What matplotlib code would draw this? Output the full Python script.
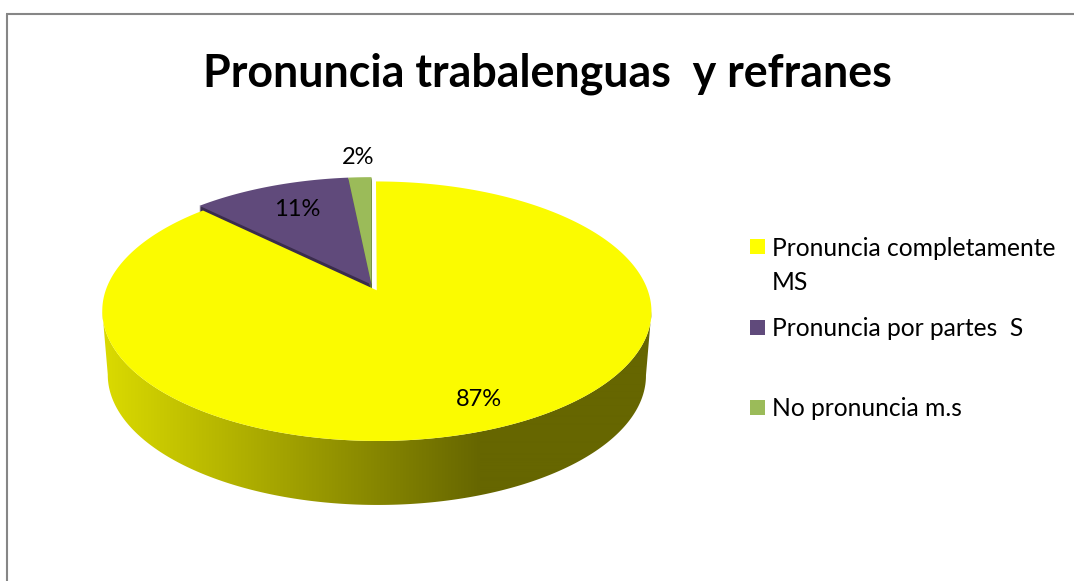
import numpy as np
import matplotlib
matplotlib.use("Agg")
import matplotlib.pyplot as plt
from matplotlib.patches import Polygon, Rectangle

title = "Pronuncia trabalenguas  y refranes"
categories = ["Pronuncia completamente\nMS", "Pronuncia por partes  S", "No pronuncia m.s"]
values = [87.4, 11.0, 1.6]
explode = [0.05, 0.0, 0.0]
colors = ["#FBFB00", "#604A7B", "#9BBB59"]
legend_colors = ["#FFFF00", "#604A7B", "#9BBB59"]
wall_colors = [None, "#3A2C4C", "#5E7035"]

plt.rcParams["font.family"] = ["Lato", "DejaVu Sans"]
fig = plt.figure(figsize=(10.74, 5.81), dpi=100, facecolor="white")
ax = fig.add_axes([0, 0, 1, 1])

wedges, _ = ax.pie(values, explode=explode, startangle=90, counterclock=False, colors=colors)

# perspective projection of the unit pie into the pixel-sized axes
CX, CY, A, B, P = 371.5, 284.5, 269.0, 79.0, 0.16
def project(x, y):
    w = 1 + P * y
    return CX + A * x / w, (CY - B * y) / w

shapes = []
for w in wedges:
    th = np.radians(np.linspace(w.theta1, w.theta2, 600))
    cx, cy = w.center
    shapes.append((cx, cy, th))
    w.remove()

ax.set_aspect("auto")
ax.axis("off")

# dark cut walls of the two small slices
for (cx, cy, th), wc in list(zip(shapes, wall_colors))[1:]:
    px, py = project(np.r_[cx, cx + np.cos(th)], np.r_[cy, cy + np.sin(th)])
    for d in range(1, 10):
        ax.add_patch(Polygon(np.c_[px, py + d], closed=True, fc=wc, ec="none", zorder=2))

# side wall of the large slice, swept from its rim between the widest points
cx, cy, th = shapes[0]
rx, ry = project(cx + np.cos(th), cy + np.sin(th))
mid = 0.5 * (rx.min() + rx.max())
bx = mid + (rx - mid) * 0.98
by = ry + 64
i0, i1 = sorted((int(np.argmin(rx)), int(np.argmax(rx))))
side = Polygon(np.c_[np.r_[rx[i0:i1 + 1], bx[i0:i1 + 1][::-1]],
                     np.r_[ry[i0:i1 + 1], by[i0:i1 + 1][::-1]]],
               closed=True, fc="none", ec="none", zorder=3)
ax.add_patch(side)
xs = np.arange(100, 656)
c0, c1 = np.array([218, 218, 0]) / 255, np.array([102, 102, 0]) / 255
t = np.clip((xs - 105) / (480 - 105), 0, 1)
grad = (c0[None, :] * (1 - t[:, None]) + c1[None, :] * t[:, None])[None, :, :]
im = ax.imshow(grad, extent=[100, 656, 512, 280], aspect="auto", zorder=3, interpolation="bilinear")
im.set_clip_path(side)
ax.set_xlim(0, 1074)
ax.set_ylim(581, 0)

# top faces
for (cx, cy, th), col in zip(shapes, colors):
    px, py = project(np.r_[cx, cx + np.cos(th)], np.r_[cy, cy + np.sin(th)])
    ax.add_patch(Polygon(np.c_[px, py], closed=True, fc=col, ec="none", zorder=5))

# data labels
total = sum(values)
label_pos = [(479, 400), (297, 210), (358, 157)]
for v, (lx, ly) in zip(values, label_pos):
    ax.text(lx, ly, f"{v / total:.0%}", ha="center", va="center", fontsize=17, color="black", zorder=6)

# legend
legend_box_y = [239, 320, 400]
legend_text_y = [248, 329, 409]
for cat, col, by_, ty in zip(categories, legend_colors, legend_box_y, legend_text_y):
    ax.add_patch(Rectangle((750, by_), 15, 15, fc=col, ec="none", zorder=6))
    for i, line in enumerate(cat.split("\n")):
        ax.text(772, ty + i * 34, line, ha="left", va="center", fontsize=17.7, color="black", zorder=6)

ax.text(547.5, 74, title, ha="center", va="center", fontsize=32.25, fontweight="bold", color="black", zorder=6)

# chart frame (left and top only visible in the crop)
ax.plot([7, 7], [14, 581], color="#868686", lw=1.5, zorder=7, clip_on=False, solid_capstyle="butt")
ax.plot([6, 1074], [14, 14], color="#868686", lw=1.5, zorder=7, clip_on=False, solid_capstyle="butt")

fig.savefig("out.png", dpi=100, facecolor="white")
